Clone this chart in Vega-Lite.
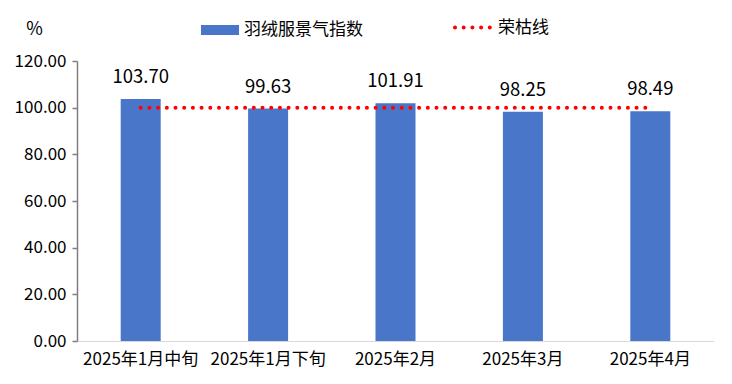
{
  "$schema": "https://vega.github.io/schema/vega-lite/v6.json",
  "width": 637,
  "height": 280,
  "autosize": {"type": "none"},
  "padding": {"left": 77, "top": 61, "right": 18, "bottom": 43},
  "background": "white",
  "config": {
    "view": {"stroke": null},
    "font": "Noto Sans CJK SC",
    "axis": {"labelFont": "Noto Sans CJK SC", "titleFont": "Noto Sans CJK SC"},
    "legend": {"labelFont": "Noto Sans CJK SC"}
  },
  "data": {
    "values": [
      {"period": "2025年1月中旬", "index": 103.70, "line": 100},
      {"period": "2025年1月下旬", "index": 99.63, "line": 100},
      {"period": "2025年2月", "index": 101.91, "line": 100},
      {"period": "2025年3月", "index": 98.25, "line": 100},
      {"period": "2025年4月", "index": 98.49, "line": 100}
    ]
  },
  "encoding": {
    "x": {
      "field": "period",
      "type": "nominal",
      "sort": null,
      "scale": {"paddingInner": 0.686, "paddingOuter": 0.343},
      "axis": {
        "title": null,
        "labelAngle": 0,
        "labelFontSize": 17,
        "labelColor": "#000000",
        "labelPadding": 10,
        "ticks": false,
        "domainColor": "#d9d9d9",
        "domainWidth": 1
      }
    }
  },
  "layer": [
    {
      "mark": {"type": "bar"},
      "encoding": {
        "y": {
          "field": "index",
          "type": "quantitative",
          "scale": {"domain": [0, 120]},
          "axis": {
            "values": [0, 20, 40, 60, 80, 100, 120],
            "format": ".2f",
            "grid": false,
            "labelFontSize": 17,
            "labelColor": "#000000",
            "labelPadding": 6,
            "tickSize": 5,
            "tickColor": "#7f7f7f",
            "tickWidth": 1.5,
            "domainColor": "#7f7f7f",
            "domainWidth": 1.5,
            "title": "%",
            "titleAngle": 0,
            "titleFontSize": 18,
            "titleFontWeight": "normal",
            "titleColor": "#000000",
            "titleAlign": "center",
            "titleBaseline": "middle",
            "titleX": -43,
            "titleY": -32
          }
        },
        "fill": {
          "datum": "羽绒服景气指数",
          "scale": {"range": ["#4A76C9"]},
          "legend": {
            "title": null,
            "orient": "none",
            "legendX": 124,
            "legendY": -50,
            "padding": 0,
            "symbolType": "M-1,-0.263H1V0.263H-1Z",
            "symbolSize": 1444,
            "symbolStrokeWidth": 0,
            "labelFontSize": 17,
            "labelColor": "#000000",
            "labelOffset": 5
          }
        }
      }
    },
    {
      "mark": {"type": "line", "strokeWidth": 4, "strokeDash": [0, 8.7], "strokeCap": "round"},
      "encoding": {
        "y": {"field": "line", "type": "quantitative"},
        "stroke": {
          "datum": "荣枯线",
          "scale": {"range": ["#FF0000"]},
          "legend": {
            "title": null,
            "orient": "none",
            "legendX": 376,
            "legendY": -53,
            "padding": 0,
            "symbolType": "stroke",
            "symbolSize": 1225,
            "symbolStrokeWidth": 4,
            "symbolDash": [0, 8.7],
            "labelFontSize": 17,
            "labelColor": "#000000",
            "labelOffset": 6,
            "encode": {"symbols": {"update": {"strokeCap": {"value": "round"}}}}
          }
        }
      }
    },
    {
      "mark": {"type": "text", "fontSize": 18.5, "baseline": "middle", "dy": -22, "color": "#000000"},
      "encoding": {
        "y": {"field": "index", "type": "quantitative"},
        "text": {"field": "index", "type": "quantitative", "format": ".2f"}
      }
    }
  ]
}
